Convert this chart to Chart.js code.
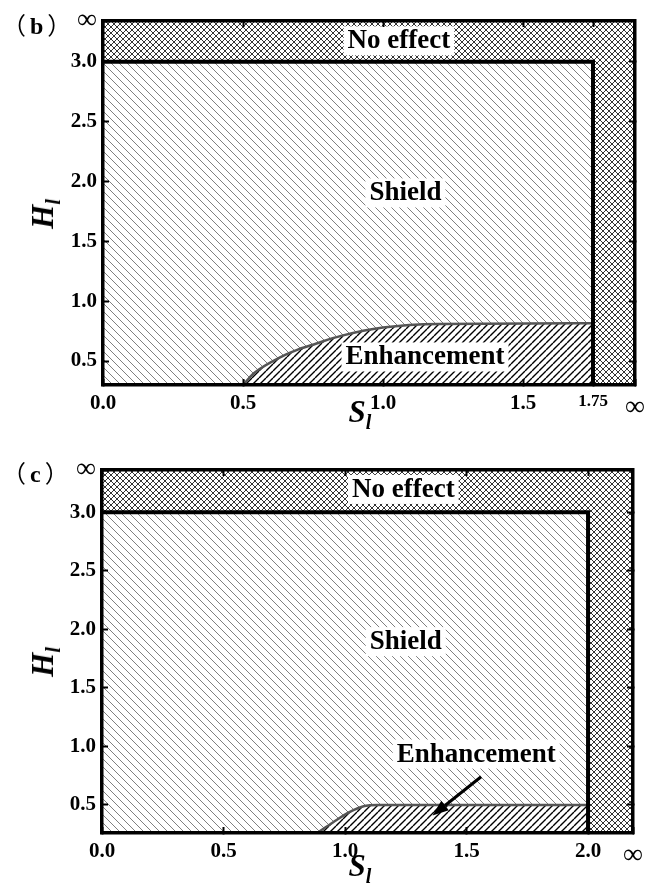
<!DOCTYPE html>
<html>
<head>
<meta charset="utf-8">
<script src="https://cdn.jsdelivr.net/npm/chart.js@4.4.1/dist/chart.umd.min.js"></script>
<style>
  body { margin: 0; background: #fff; overflow: hidden; width: 645px; height: 893px; position: relative; }
  canvas { position: absolute; left: 0; }
  #c1 { top: 0; }
  #c2 { top: 448px; }
  .tag { position: absolute; font: bold 24px "Liberation Serif", serif; color: #000; line-height: 1; }
  .tag span { font-family: "Noto Sans CJK SC", serif; font-weight: normal; }
  .tag .l { margin-right: 4px; }
  .tag .r { margin-left: 4px; }
  .ttl { position: absolute; font: italic bold 31px "Liberation Serif", serif; color: #000; white-space: nowrap; transform: translate(-50%, -50%); }
  .ttl sub { font-size: 20px; vertical-align: -7px; }
  .rot { transform: translate(-50%, -50%) rotate(-90deg); }
</style>
</head>
<body>
<canvas id="c1" width="645" height="440"></canvas>
<canvas id="c2" width="645" height="445"></canvas>
<div class="tag" style="left:2px; top:12px;"><span class="l">（</span>b<span class="r">）</span></div>
<div class="tag" style="left:2px; top:460px;"><span class="l">（</span>c<span class="r">）</span></div>
<div class="ttl rot" style="left:45px; top:214px;">H<sub>l</sub></div>
<div class="ttl" style="left:360px; top:414px;">S<sub>l</sub></div>
<div class="ttl rot" style="left:45px; top:662px;">H<sub>l</sub></div>
<div class="ttl" style="left:360px; top:868px;">S<sub>l</sub></div>
<script>
// ---- panel (b) ----
const xTicksB = [0, 0.5, 1.0, 1.5, 1.75, 1.9];
const xLabelsB = ['0.0', '0.5', '1.0', '1.5', '1.75', '∞'];
const yTicksB = [0.5, 1.0, 1.5, 2.0, 2.5, 3.0, 3.34];
const yLabelsB = ['0.5', '1.0', '1.5', '2.0', '2.5', '3.0', '∞'];
const enhanceSB = [0.5, 0.54, 0.64, 0.7, 0.76, 0.85, 1.0, 1.2, 1.75];
const enhanceHB = [0.3, 0.4, 0.54, 0.6, 0.645, 0.71, 0.78, 0.81, 0.815];
const shieldB = [1.75, 3.0];   // [S edge, H edge]
const textB = [
  { text: 'No effect', s: 1.057, h: 3.17 },
  { text: 'Shield', s: 1.08, h: 1.9 },
  { text: 'Enhancement', s: 1.15, h: 0.53 }
];

// ---- panel (c) ----
const xTicksC = [0, 0.5, 1.0, 1.5, 2.0, 2.185];
const xLabelsC = ['0.0', '0.5', '1.0', '1.5', '2.0', '∞'];
const yTicksC = [0.5, 1.0, 1.5, 2.0, 2.5, 3.0, 3.36];
const yLabelsC = ['0.5', '1.0', '1.5', '2.0', '2.5', '3.0', '∞'];
const enhanceSC = [0.885, 0.95, 1.02, 1.08, 1.13, 2.0];
const enhanceHC = [0.26, 0.35, 0.44, 0.49, 0.5, 0.5];
const shieldC = [2.0, 3.0];
const textC = [
  { text: 'No effect', s: 1.24, h: 3.19 },
  { text: 'Shield', s: 1.25, h: 1.89 },
  { text: 'Enhancement', s: 1.54, h: 0.93 }
];
const arrowC = [[1.56, 0.74], [1.36, 0.41]];  // tail, head

function hatch(ctx, size, color, width, dirs) {
  const c = document.createElement('canvas');
  c.width = c.height = size;
  const g = c.getContext('2d');
  g.fillStyle = '#fff';
  g.fillRect(0, 0, size, size);
  g.strokeStyle = color;
  g.lineWidth = width;
  g.beginPath();
  dirs.forEach(d => {
    for (let k = -size; k <= size; k += size) {
      if (d === '\\') { g.moveTo(k, 0); g.lineTo(k + size, size); }
      else { g.moveTo(k, size); g.lineTo(k + size, 0); }
    }
  });
  g.stroke();
  return ctx.createPattern(c, 'repeat');
}

const labelsPlugin = {
  id: 'regionText',
  afterDatasetsDraw(chart, args, opts) {
    const { ctx, scales: { x, y } } = chart;
    ctx.save();
    ctx.font = 'bold 27px "Liberation Serif"';
    ctx.textAlign = 'center';
    ctx.textBaseline = 'middle';
    (opts.items || []).forEach(it => {
      const px = x.getPixelForValue(it.s);
      const py = y.getPixelForValue(it.h);
      const w = ctx.measureText(it.text).width;
      ctx.fillStyle = '#fff';
      ctx.fillRect(px - w / 2 - 4, py - 15, w + 8, 29);
      ctx.fillStyle = '#000';
      ctx.fillText(it.text, px, py);
    });
    if (opts.arrow) {
      const [t, h] = opts.arrow;
      const x1 = x.getPixelForValue(t[0]), y1 = y.getPixelForValue(t[1]);
      const x2 = x.getPixelForValue(h[0]), y2 = y.getPixelForValue(h[1]);
      const a = Math.atan2(y2 - y1, x2 - x1);
      const L = 16, W = 6;
      const bx = x2 - L * Math.cos(a), by = y2 - L * Math.sin(a);
      ctx.strokeStyle = '#000';
      ctx.lineWidth = 3;
      ctx.beginPath();
      ctx.moveTo(x1, y1);
      ctx.lineTo(bx, by);
      ctx.stroke();
      ctx.fillStyle = '#000';
      ctx.beginPath();
      ctx.moveTo(x2, y2);
      ctx.lineTo(bx + W * Math.sin(a), by - W * Math.cos(a));
      ctx.lineTo(bx - W * Math.sin(a), by + W * Math.cos(a));
      ctx.closePath();
      ctx.fill();
    }
    ctx.restore();
  }
};

function tickFont(label) {
  if (label === '∞') return { family: 'Liberation Serif', size: 28, weight: 'normal' };
  if (label === '1.75') return { family: 'Liberation Serif', size: 17, weight: 'bold' };
  return { family: 'Liberation Serif', size: 21, weight: 'bold' };
}

function makePanel(id, p) {
  const canvas = document.getElementById(id);
  const ctx = canvas.getContext('2d');
  const xMin = p.xTicks[0], xMax = p.xTicks[p.xTicks.length - 1];
  const yMax = p.yTicks[p.yTicks.length - 1];
  // frame and tick marks go on top of the hatched fills
  const frame = { display: true, width: 3.5, color: '#000', z: 1 };
  const grid = { drawOnChartArea: false, tickLength: -6, tickWidth: 2, tickColor: '#000', z: 1 };
  const fixX = (v) => (s) => { s.ticks = v.map(t => ({ value: t })); };

  new Chart(canvas, {
    type: 'line',
    data: {
      datasets: [
        {
          label: 'edge',
          data: [{ x: xMin, y: p.shield[1] }, { x: p.shield[0], y: p.shield[1] }, { x: p.shield[0], y: p.yMin }],
          borderColor: '#000', borderWidth: 4, fill: false, pointRadius: 0, order: 0
        },
        {
          label: 'Enhancement',
          data: p.enhS.map((s, i) => ({ x: s, y: p.enhH[i] })),
          borderColor: '#555', borderWidth: 2.5, backgroundColor: hatch(ctx, 7, '#000', 1.4, ['/']),
          fill: 'start', cubicInterpolationMode: 'monotone', pointRadius: 0, order: 1
        },
        {
          label: 'Shield',
          data: [{ x: xMin, y: p.shield[1] }, { x: p.shield[0], y: p.shield[1] }],
          borderWidth: 0, backgroundColor: hatch(ctx, 8, '#808080', 1, ['\\']),
          fill: 'start', pointRadius: 0, order: 2
        },
        {
          label: 'No effect',
          data: [{ x: xMin, y: yMax }, { x: xMax, y: yMax }],
          borderWidth: 0, backgroundColor: hatch(ctx, 6, '#000', 0.8, ['\\', '/']),
          fill: 'start', pointRadius: 0, order: 3
        }
      ]
    },
    options: {
      responsive: false,
      animation: false,
      devicePixelRatio: 1,
      layout: { padding: 0 },
      plugins: {
        legend: { display: false },
        tooltip: { enabled: false },
        regionText: { items: p.text, arrow: p.arrow }
      },
      scales: {
        x: {
          type: 'linear', position: 'bottom', min: xMin, max: xMax, z: 1,
          afterBuildTicks: fixX(p.xTicks),
          ticks: {
            autoSkip: false, maxRotation: 0, padding: 12, color: '#000',
            callback: (v, i) => p.xLabels[i],
            font: (c) => tickFont(p.xLabels[c.index])
          },
          grid: grid, border: frame,
          afterFit: (s) => { s.height = p.box[3]; s.paddingLeft = 0; s.paddingRight = 0; }
        },
        x2: {
          type: 'linear', position: 'top', min: xMin, max: xMax, z: 1,
          afterBuildTicks: fixX(p.xTicks.slice(0, -1)),
          ticks: { display: false },
          grid: grid, border: frame,
          afterFit: (s) => { s.height = p.box[1]; s.paddingLeft = 0; s.paddingRight = 0; }
        },
        y: {
          type: 'linear', position: 'left', min: p.yMin, max: yMax, z: 1,
          afterBuildTicks: fixX(p.yTicks),
          ticks: {
            autoSkip: false, padding: 12, color: '#000',
            callback: (v, i) => p.yLabels[i],
            font: (c) => tickFont(p.yLabels[c.index])
          },
          grid: grid, border: frame,
          afterFit: (s) => { s.width = p.box[0]; s.paddingTop = 0; s.paddingBottom = 0; }
        },
        y2: {
          type: 'linear', position: 'right', min: p.yMin, max: yMax, z: 1,
          afterBuildTicks: fixX(p.yTicks.slice(0, -1)),
          ticks: { display: false },
          grid: grid, border: frame,
          afterFit: (s) => { s.width = p.box[2]; s.paddingTop = 0; s.paddingBottom = 0; }
        }
      }
    },
    plugins: [labelsPlugin]
  });
}

// box = [left width, top height, right width, bottom height]
makePanel('c1', {
  xTicks: xTicksB, xLabels: xLabelsB, yTicks: yTicksB, yLabels: yLabelsB, yMin: 0.3,
  enhS: enhanceSB, enhH: enhanceHB, shield: shieldB, text: textB, arrow: null,
  box: [103, 21, 10, 55]
});
makePanel('c2', {
  xTicks: xTicksC, xLabels: xLabelsC, yTicks: yTicksC, yLabels: yLabelsC, yMin: 0.26,
  enhS: enhanceSC, enhH: enhanceHC, shield: shieldC, text: textC, arrow: arrowC,
  box: [102, 22, 12, 60]
});
</script>
</body>
</html>
